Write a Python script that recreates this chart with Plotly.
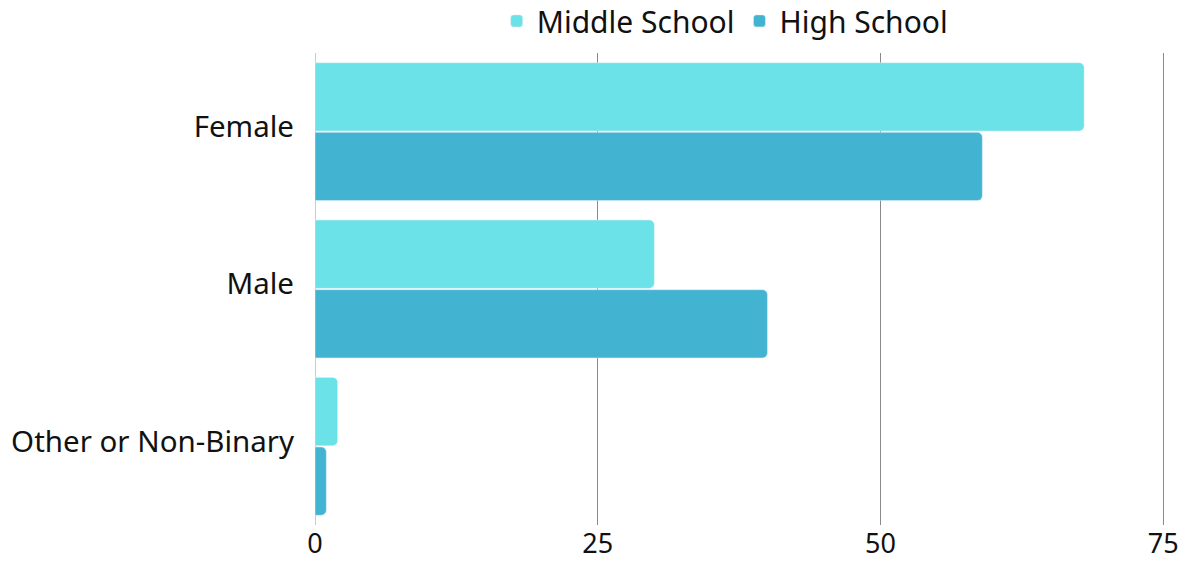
import plotly.graph_objects as go

categories = ["Female", "Male", "Other or Non-Binary"]
middle_school = [68, 30, 2]
high_school = [59, 40, 1]
x_ticks = [0, 25, 50, 75]

fig = go.Figure()
fig.add_trace(go.Bar(y=categories, x=middle_school, name="Middle School",
                     orientation="h", marker=dict(color="#6AE2E7")))
fig.add_trace(go.Bar(y=categories, x=high_school, name="High School",
                     orientation="h", marker=dict(color="#43B3D2")))

fig.update_layout(
    width=1187, height=561,
    margin=dict(l=315, r=22, t=53, b=36, autoexpand=False),
    paper_bgcolor="white", plot_bgcolor="white",
    barmode="group", bargap=0.115, bargroupgap=0.02,
    barcornerradius=5,
    font=dict(family="Noto Sans", size=29, color="#111"),
    legend=dict(orientation="h", x=0.482, xanchor="center", y=1.068, yanchor="middle",
                font=dict(size=30), traceorder="normal", itemwidth=30),
    xaxis=dict(range=[0, 75.15], tickvals=x_ticks, showgrid=True, gridcolor="#8a8a8a",
               gridwidth=1, zeroline=True, zerolinecolor="#cccccc", zerolinewidth=1,
               ticks="", tickfont=dict(size=27), automargin=False),
    yaxis=dict(autorange="reversed", ticks="", ticklabelstandoff=20, ticklabelshift=5,
               tickfont=dict(size=29.5), automargin=False),
)

fig.write_html("out.html", config={"displayModeBar": False},
               post_script="document.body.style.margin='0';")
